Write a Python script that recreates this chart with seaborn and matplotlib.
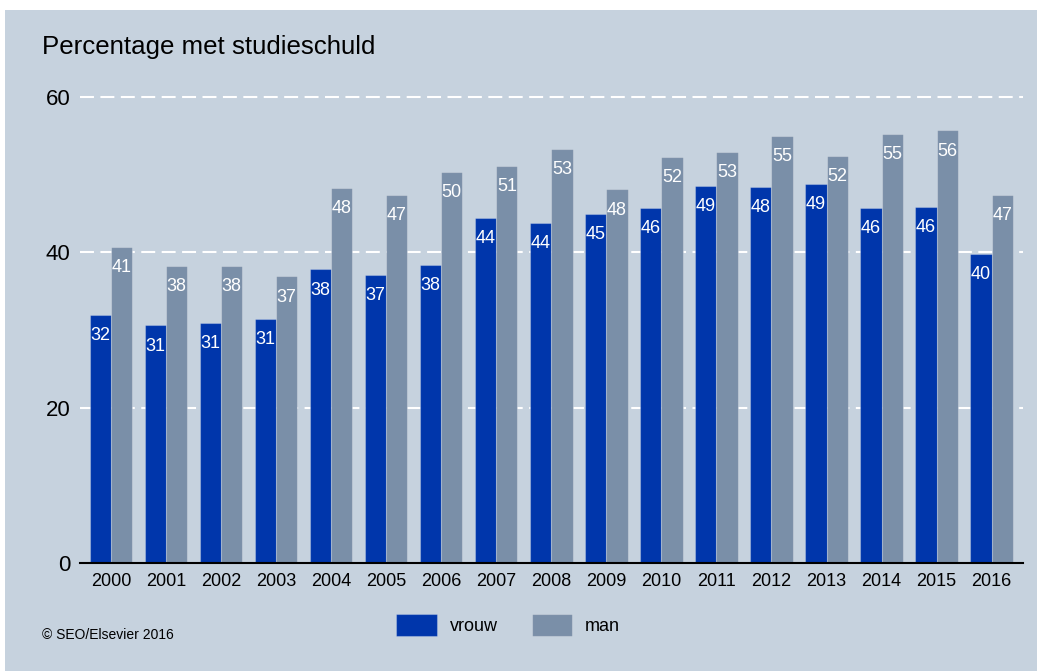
import pandas as pd
import seaborn as sns
import matplotlib.pyplot as plt
from matplotlib.patches import Rectangle

# data
jaren = [str(j) for j in range(2000, 2017)]
vrouw = [31.9, 30.6, 30.9, 31.4, 37.8, 37.1, 38.4, 44.4, 43.8, 45.0,
         45.7, 48.6, 48.4, 48.8, 45.7, 45.8, 39.8]
man = [40.7, 38.2, 38.2, 36.9, 48.3, 47.4, 50.4, 51.1, 53.3, 48.1,
       52.3, 52.9, 55.0, 52.4, 55.2, 55.7, 47.4]
y_ticks = [0, 20, 40, 60]

df = pd.DataFrame({
    'jaar': jaren * 2,
    'waarde': vrouw + man,
    'geslacht': ['vrouw'] * len(jaren) + ['man'] * len(jaren),
})

bg = '#C6D2DE'
kleuren = {'vrouw': '#0036AB', 'man': '#7A8FA8'}

sns.set_style('white')
plt.rcParams['font.family'] = ['Liberation Sans', 'DejaVu Sans']
plt.rcParams['text.color'] = 'black'
plt.rcParams['xtick.color'] = 'black'
plt.rcParams['ytick.color'] = 'black'

fig = plt.figure(figsize=(10.37, 6.71), dpi=100)
fig.patch.set_facecolor('white')
# grijsblauw paneel met witte rand links en boven
fig.patches.append(Rectangle((5 / 1037, 0), 1, 1 - 10 / 671,
                             transform=fig.transFigure, facecolor=bg,
                             edgecolor='none', zorder=-10))

ax = fig.add_axes([80 / 1037, 1 - 563 / 671, (1023 - 80) / 1037, (563 - 80) / 671])
ax.set_facecolor('none')

sns.barplot(data=df, x='jaar', y='waarde', hue='geslacht', palette=kleuren,
            width=0.77, ax=ax, legend=True, saturation=1,
            edgecolor=(1, 1, 1, 0.25), linewidth=0.8, zorder=3)

for c in ax.containers:
    ax.bar_label(c, fmt='%.0f', label_type='edge', padding=-21,
                 color='white', fontsize=13, zorder=4)

ax.set_ylim(0, (563 - 80) / ((563 - 97) / 60))
ax.set_xlim(-0.564, 16.57)
ax.set_yticks(y_ticks)
ax.set_yticklabels([str(t) for t in y_ticks], fontsize=16)
ax.tick_params(axis='y', length=0, pad=7)
ax.tick_params(axis='x', length=0, pad=7, labelsize=13)
ax.set_xlabel('')
ax.set_ylabel('')

for t in y_ticks[1:]:
    ax.axhline(t, color='white', lw=1.5, ls=(0, (6.7, 3.1)), zorder=1)

for s in ['top', 'right', 'left']:
    ax.spines[s].set_visible(False)
ax.spines['bottom'].set_color('black')
ax.spines['bottom'].set_linewidth(1.5)
ax.spines['bottom'].set_zorder(5)

handles, labels = ax.get_legend_handles_labels()
ax.legend_.remove()
fig.legend(handles, labels, loc='center', bbox_to_anchor=(0.49, 0.068),
           ncol=2, frameon=False, fontsize=13, handlelength=2.25,
           handleheight=1.5, handletextpad=0.7, columnspacing=1.9)

fig.text(42 / 1037, 1 - 54 / 671, 'Percentage met studieschuld',
         fontsize=18.6, va='baseline', ha='left')
fig.text(42 / 1037, 1 - 639 / 671, '\u00a9 SEO/Elsevier 2016',
         fontsize=10, va='baseline', ha='left')

fig.savefig('out.png', dpi=100, facecolor=fig.get_facecolor())
